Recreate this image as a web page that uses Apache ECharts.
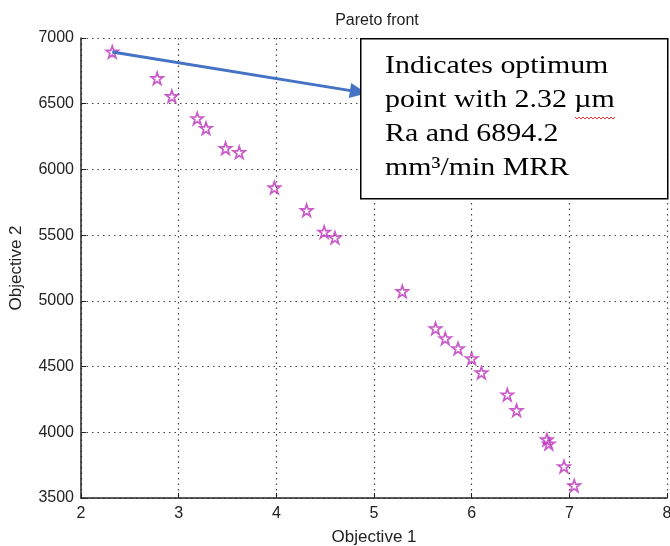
<!DOCTYPE html>
<html>
<head>
<meta charset="utf-8">
<script src="https://cdn.jsdelivr.net/npm/echarts@6/dist/echarts.min.js"></script>
<style>
html,body{margin:0;padding:0;background:#fff;overflow:hidden;}
#chart{width:670px;height:546px;}
</style>
</head>
<body>
<div id="chart"></div>
<script>
// Data (Objective 1, Objective 2)
var objective1 = [2.32, 2.78, 2.93, 3.19, 3.28, 3.48, 3.62, 3.98, 4.31, 4.49, 4.60, 5.29, 5.63, 5.73, 5.86, 6.00, 6.10, 6.365, 6.46, 6.77, 6.79, 6.945, 7.05];
var objective2 = [6894.2, 6693, 6556, 6388, 6313, 6161, 6130, 5862, 5689, 5524, 5481, 5072, 4790, 4714, 4638, 4562, 4454, 4286, 4167, 3944, 3913, 3740, 3594];
var xTicks = [2, 3, 4, 5, 6, 7, 8];
var yTicks = [3500, 4000, 4500, 5000, 5500, 6000, 6500, 7000];
var optimumPoint = [2.32, 6894.2];
var arrowTip = [4.84, 6590];
var noteLines = ['Indicates optimum', 'point with 2.32 \u00b5m', 'Ra and 6894.2', 'mm\u00b3/min MRR'];

var points = objective1.map(function (x, i) { return [x, objective2[i]]; });

var starPath = 'path://M50,2 L61.8,36.2 L97.6,36.2 L68.7,57.6 L79.4,92 L50,71 L20.6,92 L31.3,57.6 L2.4,36.2 L38.2,36.2 Z';

var chart = echarts.init(document.getElementById('chart'));
var gridLine = { show: true, lineStyle: { color: '#444', width: 1.2, type: [1.5, 4] } };
var axisFont = { fontFamily: 'Liberation Sans', fontSize: 16, color: '#222' };
var nameFont = { fontFamily: 'Liberation Sans', fontSize: 17, color: '#222' };

chart.setOption({
  animation: false,
  backgroundColor: '#fff',
  title: {
    text: 'Pareto front', left: 372, top: 8, textAlign: 'center',
    textStyle: { fontFamily: 'Liberation Sans', fontSize: 16, fontWeight: 'normal', color: '#222' }
  },
  grid: { left: 81, right: 3, top: 38, bottom: 48, containLabel: false, outerBoundsMode: 'none' },
  xAxis: {
    type: 'value', min: xTicks[0], max: xTicks[xTicks.length - 1], interval: 1,
    name: 'Objective 1', nameLocation: 'middle', nameGap: 31,
    nameTextStyle: nameFont,
    axisLine: { show: true, onZero: false, lineStyle: { color: '#222', width: 1.5 } },
    axisTick: { show: true, inside: true, length: 5, lineStyle: { color: '#222' } },
    axisLabel: Object.assign({ margin: 8, formatter: function (v) { return String(v); } }, axisFont),
    splitLine: gridLine
  },
  yAxis: {
    type: 'value', min: yTicks[0], max: yTicks[yTicks.length - 1], interval: 500,
    name: 'Objective 2', nameLocation: 'middle', nameGap: 56, nameRotate: 90,
    nameTextStyle: nameFont,
    axisLine: { show: true, onZero: false, lineStyle: { color: '#222', width: 1.5 } },
    axisTick: { show: true, inside: true, length: 5, lineStyle: { color: '#222' } },
    axisLabel: Object.assign({ margin: 7, formatter: function (v) { return String(v); } }, axisFont),
    splitLine: gridLine
  },
  series: [{
    type: 'scatter',
    data: points,
    symbol: starPath,
    symbolSize: 12,
    itemStyle: { color: 'rgba(0,0,0,0)', borderColor: '#bb33bb', borderWidth: 1.7 },
    markLine: {
      silent: true,
      symbol: ['none', 'triangle'],
      symbolSize: [15, 17],
      label: { show: false },
      lineStyle: { color: '#4472c4', width: 3, type: 'solid' },
      data: [[{ coord: optimumPoint }, { coord: arrowTip }]]
    }
  }],
  graphic: [
    {
      type: 'rect', left: 360, top: 38, z: 100,
      shape: { width: 307, height: 160 },
      style: { fill: '#fff', stroke: '#000', lineWidth: 1.5 }
    },
    {
      type: 'text', x: 385, y: 49, z: 101, scaleX: 1.15,
      style: {
        text: noteLines.join('\n'),
        font: '26px "Liberation Serif"',
        lineHeight: 34,
        fill: '#000'
      }
    },
    {
      type: 'polyline', z: 102,
      shape: { points: [[575,117],[577,119],[579,117],[581,119],[583,117],[585,119],[587,117],[589,119],[591,117],[593,119],[595,117],[597,119],[599,117],[601,119],[603,117],[605,119],[607,117],[609,119],[611,117],[613,119],[615,117]] },
      style: { stroke: '#e03030', lineWidth: 1, fill: null }
    }
  ]
});
</script>
</body>
</html>
